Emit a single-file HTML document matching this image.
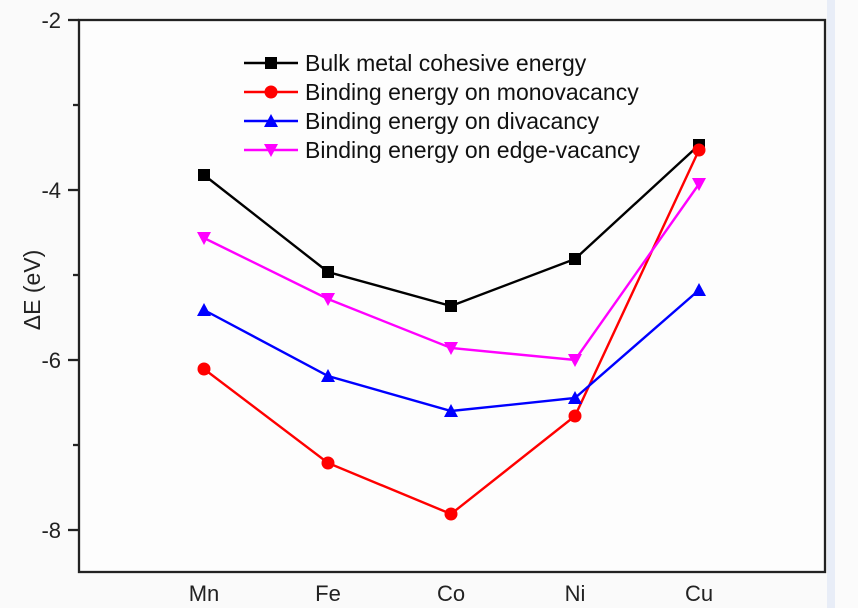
<!DOCTYPE html>
<html><head><style>html,body{margin:0;padding:0;background:#fafafa;}svg{display:block;font-family:"Liberation Sans",Arial,sans-serif;}</style></head>
<body>
<svg width="858" height="608" viewBox="0 0 858 608">
<rect width="858" height="608" fill="#fafafa"/>
<rect x="827" y="0" width="8" height="608" fill="#e8edf7"/>
<rect x="835" y="0" width="23" height="608" fill="#fbfbfb"/>
<rect x="79" y="20" width="746" height="552" fill="#fdfdfd" stroke="#222" stroke-width="2.3"/>
<g stroke="#222" stroke-width="2.3">
<line x1="68" y1="20" x2="79" y2="20"/><line x1="73" y1="105" x2="79" y2="105"/>
<line x1="68" y1="190" x2="79" y2="190"/><line x1="73" y1="275" x2="79" y2="275"/>
<line x1="68" y1="360" x2="79" y2="360"/><line x1="73" y1="445" x2="79" y2="445"/>
<line x1="68" y1="530" x2="79" y2="530"/>
</g>
<g font-size="22" fill="#222" text-anchor="end">
<text x="61" y="28">-2</text><text x="61" y="198">-4</text><text x="61" y="368">-6</text><text x="61" y="538">-8</text>
</g>
<g font-size="22" fill="#222" text-anchor="middle">
<text x="204" y="601">Mn</text><text x="328" y="601">Fe</text><text x="451" y="601">Co</text><text x="575" y="601">Ni</text><text x="699" y="601">Cu</text>
</g>
<text transform="translate(40,290) rotate(-90)" font-size="23" fill="#222" text-anchor="middle">ΔE (eV)</text>
<g fill="none" stroke-width="2.4">
<polyline stroke="#000" points="204,175 328,272 451,306 575,259 699,145"/>
<polyline stroke="#f00" points="204,369 328,463 451,514 575,416 699,150"/>
<polyline stroke="#00f" points="204,310 328,376 451,411 575,398 699,290"/>
<polyline stroke="#f0f" points="204,238 328,299 451,348 575,360 699,184"/>
</g>
<g fill="#000"><rect x="198" y="169" width="12" height="12"/><rect x="322" y="266" width="12" height="12"/><rect x="445" y="300" width="12" height="12"/><rect x="569" y="253" width="12" height="12"/><rect x="693" y="139" width="12" height="12"/></g>
<g fill="#f00"><circle cx="204" cy="369" r="6.5"/><circle cx="328" cy="463" r="6.5"/><circle cx="451" cy="514" r="6.5"/><circle cx="575" cy="416" r="6.5"/><circle cx="699" cy="150" r="6.5"/></g>
<g fill="#00f"><polygon points="204,303 211,316 197,316"/><polygon points="328,369 335,382 321,382"/><polygon points="451,404 458,417 444,417"/><polygon points="575,391 582,404 568,404"/><polygon points="699,283 706,296 692,296"/></g>
<g fill="#f0f"><polygon points="197,232 211,232 204,245"/><polygon points="321,293 335,293 328,306"/><polygon points="444,342 458,342 451,355"/><polygon points="568,354 582,354 575,367"/><polygon points="692,178 706,178 699,191"/></g>
<g stroke-width="2.4">
<line x1="244" y1="63" x2="298" y2="63" stroke="#000"/><rect x="265" y="57" width="12" height="12" fill="#000"/>
<line x1="244" y1="92" x2="298" y2="92" stroke="#f00"/><circle cx="271" cy="92" r="6.5" fill="#f00"/>
<line x1="244" y1="121" x2="298" y2="121" stroke="#00f"/><polygon points="271,114 278,127 264,127" fill="#00f"/>
<line x1="244" y1="150" x2="298" y2="150" stroke="#f0f"/><polygon points="264,144 278,144 271,157" fill="#f0f"/>
</g>
<g font-size="23" fill="#111">
<text x="305" y="71">Bulk metal cohesive energy</text>
<text x="305" y="100">Binding energy on monovacancy</text>
<text x="305" y="129">Binding energy on divacancy</text>
<text x="305" y="158">Binding energy on edge-vacancy</text>
</g>
</svg>
</body></html>
